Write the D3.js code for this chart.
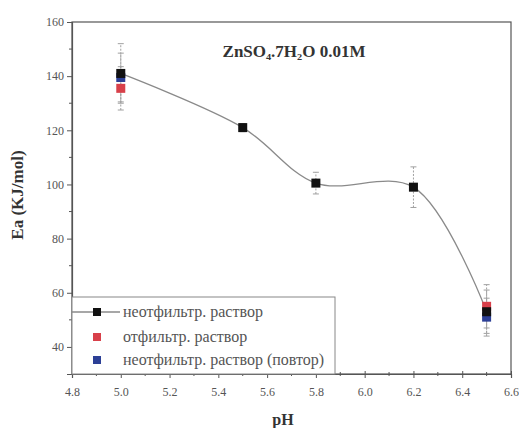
<!DOCTYPE html>
<html><head><meta charset="utf-8">
<script src="https://cdn.jsdelivr.net/npm/d3@7"></script>
<style>body{margin:0;background:#fff}svg{display:block}
svg text{font-family:"Liberation Serif","DejaVu Serif","Times New Roman",serif !important}</style>
</head><body>
<svg id="c" width="519" height="428"></svg>
<script>
const pH = [5.0, 5.5, 5.8, 6.2, 6.5];
const unfiltered = [141, 121, 100.5, 99, 53];
const unfilteredErr = [11, 1.5, 4, 7.5, 8];
const filtered = [135.5, null, null, null, 55];
const filteredErr = [8, null, null, null, 8];
const repeat = [139.5, null, null, null, 51];
const repeatErr = [9, null, null, null, 7];
const xTicks = [4.8, 5.0, 5.2, 5.4, 5.6, 5.8, 6.0, 6.2, 6.4, 6.6];
const yTicks = [40, 60, 80, 100, 120, 140, 160];
const seriesNames = ["неотфильтр. раствор", "отфильтр. раствор", "неотфильтр. раствор (повтор)"];
const seriesColors = ["#111111", "#d8404a", "#2c3f96"];
const title = "ZnSO₄.7H₂O 0.01M";

const svg = d3.select("#c");
const L = 72, R = 511, T = 22, B = 374;
const x = d3.scaleLinear().domain([4.8, 6.6]).range([L, R]);
const y = d3.scaleLinear().domain([30, 160]).range([B, T]);
const axisCol = "#555";

svg.append("rect").attr("x", L).attr("y", T).attr("width", R - L).attr("height", B - T)
  .attr("fill", "none").attr("stroke", axisCol).attr("stroke-width", 1.2);

const xAx = svg.append("g").attr("transform", `translate(0,${B})`)
  .call(d3.axisBottom(x).tickValues(xTicks).tickFormat(d3.format(".1f")).tickSize(4).tickPadding(9));
const yAx = svg.append("g").attr("transform", `translate(${L},0)`)
  .call(d3.axisLeft(y).tickValues(yTicks).tickFormat(d3.format("d")).tickSize(5).tickPadding(3));
[xAx, yAx].forEach(g => {
  g.select(".domain").attr("stroke", axisCol).attr("stroke-width", 1.2);
  g.selectAll(".tick line").attr("stroke", axisCol);
  g.selectAll("text").attr("font-size", 12).attr("fill", "#555");
});
xAx.selectAll(".tick line").attr("y1", -3);
const xMinor = d3.range(4.9, 6.6, 0.2);
svg.append("g").selectAll("line").data(xMinor).join("line")
  .attr("x1", d => x(d)).attr("x2", d => x(d)).attr("y1", B - 2).attr("y2", B + 2)
  .attr("stroke", axisCol);
const yMinor = d3.range(50, 160, 20);
svg.append("g").selectAll("line").data(yMinor).join("line")
  .attr("x1", L - 3).attr("x2", L).attr("y1", d => y(d)).attr("y2", d => y(d))
  .attr("stroke", axisCol);

const line = d3.line().x((d, i) => x(pH[i])).y(d => y(d)).curve(d3.curveCatmullRom.alpha(0.5));
svg.append("path").attr("d", line(unfiltered)).attr("fill", "none")
  .attr("stroke", "#8a8a8a").attr("stroke-width", 1.3);

const series = [
  {v: unfiltered, e: unfilteredErr},
  {v: filtered, e: filteredErr},
  {v: repeat, e: repeatErr}
];
[2, 1, 0].forEach(si => {
  const s = series[si];
  const pts = pH.map((p, i) => ({p, v: s.v[i], e: s.e[i]})).filter(d => d.v != null);
  const g = svg.append("g").attr("stroke", "#a0a0a0").attr("stroke-width", 1);
  pts.forEach(d => {
    g.append("line").attr("x1", x(d.p)).attr("x2", x(d.p)).attr("y1", y(d.v - d.e)).attr("y2", y(d.v + d.e))
      .attr("stroke-dasharray", "2,1.5");
    [d.v - d.e, d.v + d.e].forEach(v => g.append("line")
      .attr("x1", x(d.p) - 3).attr("x2", x(d.p) + 3).attr("y1", y(v)).attr("y2", y(v)));
  });
});
[1, 2, 0].forEach(si => {
  const s = series[si];
  const pts = pH.map((p, i) => ({p, v: s.v[i]})).filter(d => d.v != null);
  svg.append("g").selectAll("rect").data(pts).join("rect")
    .attr("x", d => x(d.p) - 4.5).attr("y", d => y(d.v) - 4.5)
    .attr("width", 9).attr("height", 9).attr("fill", seriesColors[si]);
});

svg.append("text").attr("x", 294).attr("y", 57).attr("text-anchor", "middle")
  .attr("font-weight", "bold").attr("font-size", 17).attr("fill", "#333")
  .text(title);

svg.append("text").attr("transform", "translate(23,195) rotate(-90)").attr("text-anchor", "middle")
  .attr("font-weight", "bold").attr("font-size", 17).attr("fill", "#333")
  .text("Ea (KJ/mol)");
svg.append("text").attr("x", 283).attr("y", 425).attr("text-anchor", "middle")
  .attr("font-weight", "bold").attr("font-size", 16).attr("fill", "#333")
  .text("pH");

const lg = svg.append("g");
lg.append("rect").attr("x", L).attr("y", 297).attr("width", 335 - L).attr("height", B - 297)
  .attr("fill", "#fff").attr("stroke", "#888").attr("stroke-width", 1);
const ly = [312, 337, 360];
lg.append("line").attr("x1", L).attr("x2", 120).attr("y1", ly[0]).attr("y2", ly[0])
  .attr("stroke", "#8a8a8a").attr("stroke-width", 1.3);
seriesNames.forEach((n, i) => {
  lg.append("rect").attr("x", 97 - 4).attr("y", ly[i] - 4).attr("width", 8).attr("height", 8)
    .attr("fill", seriesColors[i]);
  lg.append("text").attr("x", 123).attr("y", ly[i] + 4.5)
    .attr("font-size", 16).attr("fill", "#555").text(n);
});
</script>
</body></html>
